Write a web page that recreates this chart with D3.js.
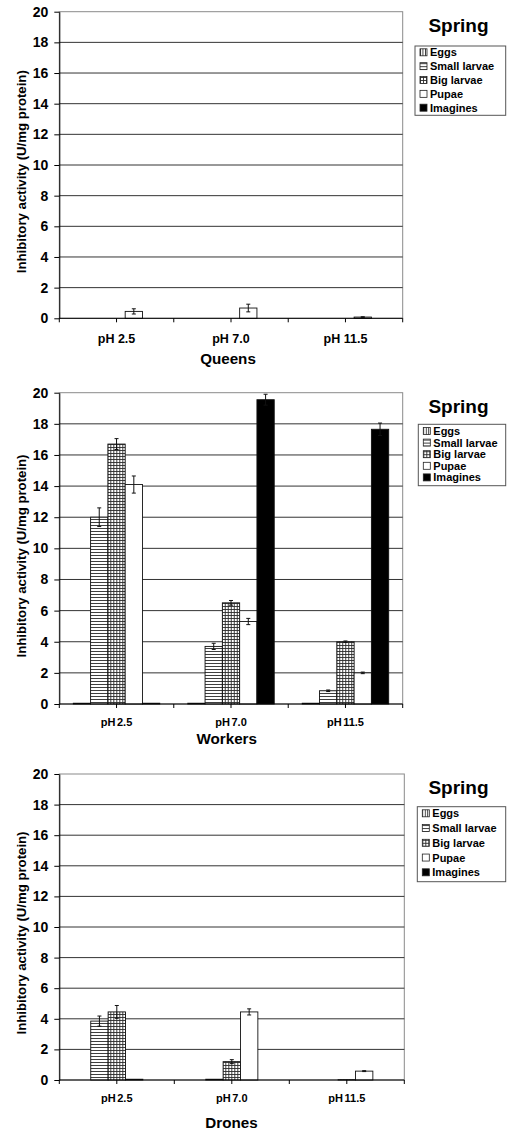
<!DOCTYPE html>
<html><head><meta charset="utf-8">
<script src="https://cdn.jsdelivr.net/npm/d3@7"></script>
<style>body{margin:0;background:#fff}svg{display:block}text{font-family:"Liberation Sans",Arial,sans-serif;fill:#000}</style>
</head><body><svg id="c" width="511" height="1132"></svg>
<script>
// ---------- data ----------
const categories = ["pH 2.5", "pH 7.0", "pH 11.5"];
const seriesNames = ["Eggs", "Small larvae", "Big larvae", "Pupae", "Imagines"];
const yTicks = [0, 2, 4, 6, 8, 10, 12, 14, 16, 18, 20];
// values[category][series]
const queensValues  = [[0, 0, 0, 0.45, 0], [0, 0, 0, 0.67, 0], [0, 0, 0, 0.08, 0]];
const queensErrors  = [[0, 0, 0, 0.17, 0], [0, 0, 0, 0.25, 0], [0, 0, 0, 0.02, 0]];
const workersValues = [[0.05, 12.0, 16.7, 14.1, 0.05], [0.05, 3.7, 6.5, 5.3, 19.55], [0.05, 0.85, 4.0, 2.0, 17.65]];
const workersErrors = [[0, 0.6, 0.35, 0.55, 0], [0, 0.2, 0.15, 0.2, 0.35], [0, 0.05, 0.05, 0.05, 0.4]];
const dronesValues  = [[0, 3.85, 4.45, 0.05, 0], [0, 0.05, 1.2, 4.45, 0], [0, 0, 0.02, 0.58, 0]];
const dronesErrors  = [[0, 0.33, 0.42, 0, 0], [0, 0, 0.13, 0.2, 0], [0, 0, 0, 0.03, 0]];
const panelTitles = ["Queens", "Workers", "Drones"];
const seasonLabel = "Spring";
const yAxisTitle = "Inhibitory activity (U/mg protein)";

// ---------- layout ----------
const layouts = [
  {left: 59.3, right: 402.7, y0: 318.3, y20: 11.7, catSize: 12.5, catBold: true, catY: 342.5, titleX: 228, titleY: 363.5,
   axTitleY: 171.7, springY: 31.7, lg: {x: 415, y: 46, w: 90.7, h: 69.3, first: 52.3, step: 13.85}},
  {left: 59.3, right: 402.7, y0: 704, y20: 392.7, catSize: 11, catBold: true, catY: 725.5, titleX: 226.7, titleY: 744,
   axTitleY: 556, springY: 412.7, lg: {x: 418.3, y: 424.3, w: 87.4, h: 61.4, first: 431, step: 11.6}},
  {left: 59.3, right: 404.3, y0: 1080, y20: 774, catSize: 11, catBold: true, catY: 1102, titleX: 231.5, titleY: 1127.5,
   axTitleY: 933, springY: 794, lg: {x: 417.3, y: 806.7, w: 88.4, h: 75, first: 813.3, step: 14.75}}
];
const panelData = [
  {values: queensValues, errors: queensErrors},
  {values: workersValues, errors: workersErrors},
  {values: dronesValues, errors: dronesErrors}
];

const svg = d3.select("#c");
const defs = svg.append("defs");
const lineCol = "#2a2a2a";
// patterns
const pV = defs.append("pattern").attr("id", "pEggs").attr("patternUnits", "userSpaceOnUse").attr("width", 2.5).attr("height", 3);
pV.append("rect").attr("width", 2.5).attr("height", 3).attr("fill", "#fff");
pV.append("rect").attr("x", 0).attr("width", 0.9).attr("height", 3).attr("fill", lineCol);
const pH = defs.append("pattern").attr("id", "pSmall").attr("patternUnits", "userSpaceOnUse").attr("width", 3).attr("height", 3);
pH.append("rect").attr("width", 3).attr("height", 3).attr("fill", "#fff");
pH.append("rect").attr("y", 0).attr("width", 3).attr("height", 0.9).attr("fill", lineCol);
const pG = defs.append("pattern").attr("id", "pBig").attr("patternUnits", "userSpaceOnUse").attr("width", 3).attr("height", 3);
pG.append("rect").attr("width", 3).attr("height", 3).attr("fill", "#fff");
pG.append("rect").attr("y", 0).attr("width", 3).attr("height", 0.9).attr("fill", lineCol);
pG.append("rect").attr("x", 0).attr("width", 0.9).attr("height", 3).attr("fill", lineCol);
const fills = d3.scaleOrdinal().domain(seriesNames).range(["url(#pEggs)", "url(#pSmall)", "url(#pBig)", "#fff", "#000"]);

layouts.forEach((L, pi) => {
  const D = panelData[pi];
  const g = svg.append("g");
  const y = d3.scaleLinear().domain([0, 20]).range([L.y0, L.y20]);
  const x0 = d3.scaleBand().domain(categories).range([L.left, L.right]).padding(0);
  const x1 = d3.scaleBand().domain(seriesNames).range([0, x0.bandwidth()]).paddingInner(0).paddingOuter(0.81);

  // plot border
  g.append("rect").attr("x", L.left).attr("y", L.y20).attr("width", L.right - L.left).attr("height", L.y0 - L.y20)
    .attr("fill", "none").attr("stroke", "#8a8a8a").attr("stroke-width", 1);
  // gridlines
  g.selectAll(".grid").data(yTicks.filter(t => t > 0 && t < 20)).join("line")
    .attr("x1", L.left).attr("x2", L.right).attr("y1", d => y(d)).attr("y2", d => y(d))
    .attr("stroke", "#333").attr("stroke-width", 1);

  // y axis
  const ya = g.append("g").attr("transform", `translate(${L.left},0)`)
    .call(d3.axisLeft(y).tickValues(yTicks).tickSize(5).tickPadding(6).tickSizeOuter(0));
  ya.select(".domain").attr("stroke", "#000");
  ya.selectAll(".tick line").attr("stroke", "#000");
  ya.selectAll(".tick text").attr("font-size", 14).attr("font-weight", "bold").attr("font-family", '"Liberation Sans",Arial,sans-serif');

  // bars
  categories.forEach((c, ci) => {
    const cg = g.append("g").attr("transform", `translate(${x0(c)},0)`);
    const rows = seriesNames.map((s, si) => ({s, v: D.values[ci][si], e: D.errors[ci][si]}));
    cg.selectAll("rect.bar").data(rows.filter(r => r.v > 0)).join("rect")
      .attr("x", r => x1(r.s)).attr("width", x1.bandwidth())
      .attr("y", r => y(r.v)).attr("height", r => y(0) - y(r.v))
      .attr("fill", r => fills(r.s)).attr("stroke", "#111").attr("stroke-width", 0.9);
    const eb = cg.selectAll("g.err").data(rows.filter(r => r.e > 0)).join("g")
      .attr("stroke", "#111").attr("stroke-width", 1);
    eb.append("line").attr("x1", r => x1(r.s) + x1.bandwidth() / 2).attr("x2", r => x1(r.s) + x1.bandwidth() / 2)
      .attr("y1", r => y(r.v + r.e)).attr("y2", r => y(Math.max(0, r.v - r.e)));
    eb.append("line").attr("x1", r => x1(r.s) + x1.bandwidth() / 2 - 2).attr("x2", r => x1(r.s) + x1.bandwidth() / 2 + 2)
      .attr("y1", r => y(r.v + r.e)).attr("y2", r => y(r.v + r.e));
    eb.append("line").attr("x1", r => x1(r.s) + x1.bandwidth() / 2 - 2).attr("x2", r => x1(r.s) + x1.bandwidth() / 2 + 2)
      .attr("y1", r => y(Math.max(0, r.v - r.e))).attr("y2", r => y(Math.max(0, r.v - r.e)));
  });

  // x axis
  g.append("line").attr("x1", L.left).attr("x2", L.right).attr("y1", y(0)).attr("y2", y(0)).attr("stroke", "#000");
  const tickXs = [];
  categories.forEach(c => { tickXs.push(x0(c)); tickXs.push(x0(c) + x0.bandwidth() / 2); });
  tickXs.push(L.right);
  g.selectAll(".xt").data(tickXs).join("line")
    .attr("x1", d => d).attr("x2", d => d).attr("y1", y(0)).attr("y2", y(0) + 4).attr("stroke", "#000");
  g.selectAll(".cat").data(categories).join("text")
    .attr("x", c => x0(c) + x0.bandwidth() / 2).attr("y", L.catY).attr("text-anchor", "middle")
    .attr("font-size", L.catSize).attr("font-weight", L.catBold ? "bold" : "normal")
    .attr("word-spacing", pi === 0 ? 0 : -1.5)
    .text(c => c);

  // titles
  g.append("text").attr("x", L.titleX).attr("y", L.titleY).attr("text-anchor", "middle")
    .attr("font-size", 15.2).attr("font-weight", "bold").text(panelTitles[pi]);
  g.append("text").attr("transform", `translate(26,${L.axTitleY}) rotate(-90)`).attr("text-anchor", "middle")
    .attr("font-size", 12.5).attr("font-weight", "bold").attr("textLength", 203).attr("lengthAdjust", "spacingAndGlyphs")
    .text(yAxisTitle);
  g.append("text").attr("x", 458.5).attr("y", L.springY).attr("text-anchor", "middle")
    .attr("font-size", 19).attr("font-weight", "bold").text(seasonLabel);

  // legend
  const lg = g.append("g");
  lg.append("rect").attr("x", L.lg.x).attr("y", L.lg.y).attr("width", L.lg.w).attr("height", L.lg.h)
    .attr("fill", "#fff").attr("stroke", "#555").attr("stroke-width", 1);
  const items = lg.selectAll(".li").data(seriesNames).join("g")
    .attr("transform", (s, i) => `translate(${L.lg.x + 5},${L.lg.first + i * L.lg.step})`);
  items.append("rect").attr("x", 0).attr("y", -3.5).attr("width", 7).attr("height", 7)
    .attr("fill", s => fills(s)).attr("stroke", "#222").attr("stroke-width", 0.8);
  items.append("text").attr("x", 10).attr("y", 4).attr("font-size", 11).attr("font-weight", "bold").text(s => s);
});
</script></body></html>
